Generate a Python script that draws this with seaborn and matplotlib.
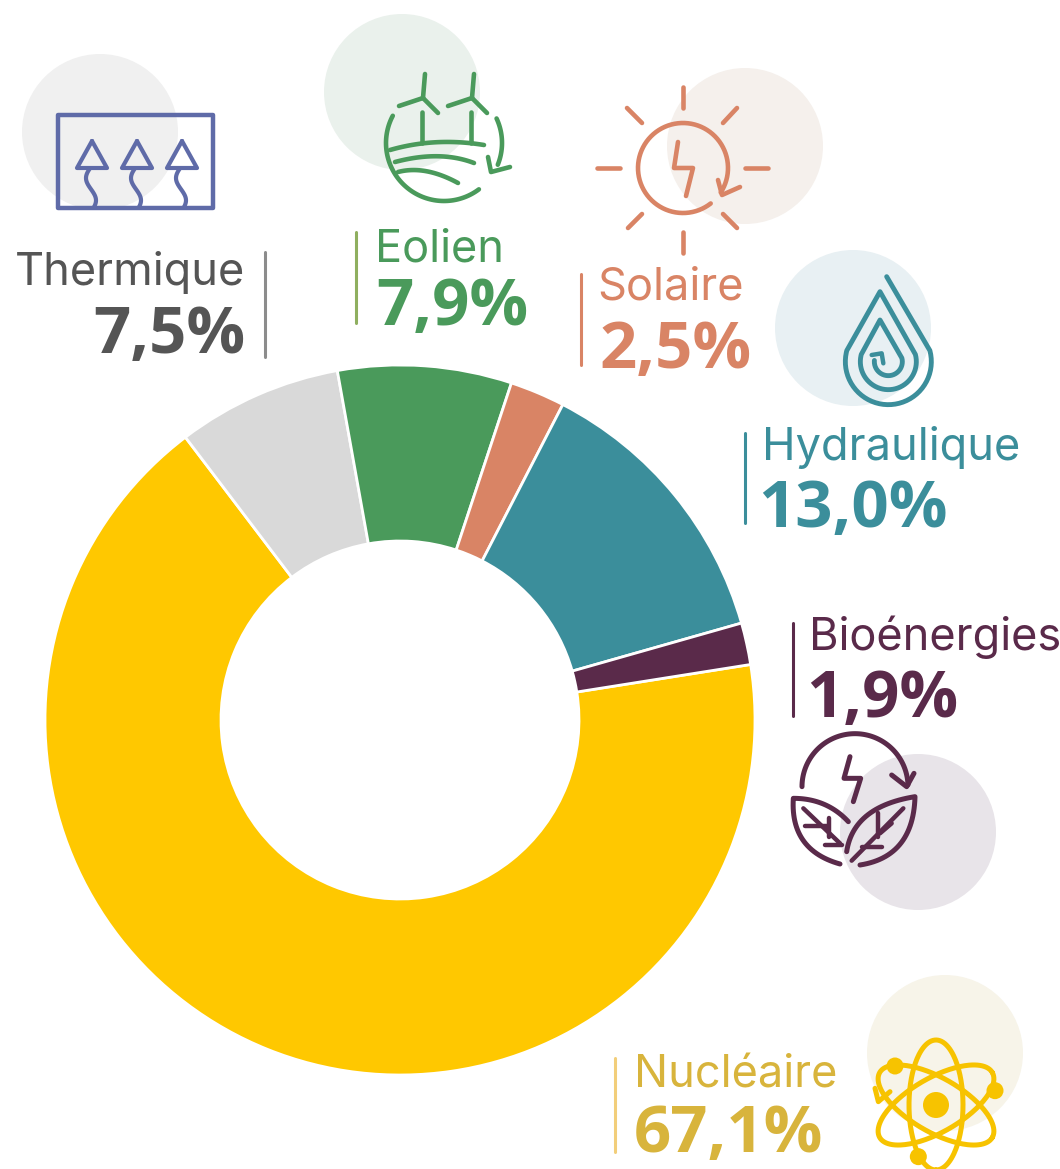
import numpy as np
import matplotlib
matplotlib.use("Agg")
import matplotlib.pyplot as plt
from matplotlib.patches import Circle, Rectangle
import seaborn as sns

# ---- data -----------------------------------------------------------------
categories = ["Nucléaire", "Thermique", "Eolien", "Solaire", "Hydraulique", "Bioénergies"]
shares = [67.1, 7.5, 7.9, 2.5, 13.0, 1.9]
slice_colors = ["#FFC800", "#D9D9D9", "#4A9A5B", "#D98465", "#3B8E9B", "#5A2A4A"]
text_colors = ["#D8B43C", "#555555", "#4A9A5B", "#D98465", "#3B8E9B", "#5A2A4A"]
bar_colors = ["#F2CE7A", "#8C8C8C", "#8FAF5F", "#D98465", "#3B8E9B", "#5A2A4A"]
halo_colors = ["#F7F4E9", "#F0F0F0", "#EAF1EC", "#F5F0EC", "#E8F0F3", "#E8E4E9"]

W, H = 1060, 1169
sns.set_theme(style="white")
plt.rcParams["font.family"] = ["Inter", "DejaVu Sans"]

fig = plt.figure(figsize=(W / 100, H / 100), dpi=100, facecolor="white")

bg = fig.add_axes([0, 0, 1, 1], zorder=1)
bg.set_xlim(0, W); bg.set_ylim(H, 0); bg.axis("off")
fg = fig.add_axes([0, 0, 1, 1], zorder=3)
fg.set_xlim(0, W); fg.set_ylim(H, 0); fg.axis("off"); fg.patch.set_alpha(0)

# donut
cx, cy, R = 400, 720, 355
ax = fig.add_axes([(cx - R) / W, 1 - (cy + R) / H, 2 * R / W, 2 * R / H], zorder=2)
ax.patch.set_alpha(0)
palette = sns.color_palette(slice_colors)
ax.pie(shares, colors=palette, startangle=9.0, counterclock=False, radius=1,
       wedgeprops=dict(width=1 - 179 / 355, edgecolor="white", linewidth=2.0))
ax.set_xlim(-1, 1); ax.set_ylim(-1, 1)
sns.despine(ax=ax, left=True, bottom=True)

# ---- labels ---------------------------------------------------------------
# name -> (label x, value x, ha, label baseline, value baseline, bar x, top, bottom, halo x, y)
layout = {
    "Thermique":   (245, 245, "right", 285, 353, 265, 252, 357, 100, 132),
    "Eolien":      (375, 376, "left", 262, 325, 356, 232, 323, 402, 92),
    "Solaire":     (597, 599, "left", 300, 368, 581, 274, 365, 745, 146),
    "Hydraulique": (762, 758, "left", 460, 527, 745, 433, 523, 853, 328),
    "Bioénergies": (809, 806, "left", 650, 717, 793, 623, 716, 918, 832),
    "Nucléaire":   (634, 634, "left", 1087, 1152, 615, 1058, 1152, 945, 1053),
}
for name, val, col, bcol, halo in zip(categories, shares, text_colors, bar_colors, halo_colors):
    x, vx, ha, y1, y2, bx, b0, b1, hx, hy = layout[name]
    bg.add_patch(Circle((hx, hy), 78, fc=halo, ec="none"))
    fg.text(x, y1, name, color=col, fontsize=32.5, ha=ha, va="baseline",
            family=["Inter", "DejaVu Sans"])
    fg.text(vx, y2, f"{val:.1f}%".replace(".", ","), color=col, fontsize=47, ha=ha,
            va="baseline", fontweight="bold", family=["Open Sans", "DejaVu Sans"])
    fg.plot([bx, bx], [b0, b1], color=bcol, lw=2.2, solid_capstyle="round")


def line(pts, col, lw=3.3, z=4):
    p = np.array(pts, float)
    fg.plot(p[:, 0], p[:, 1], color=col, lw=lw, solid_capstyle="round",
            solid_joinstyle="round", zorder=z)


def arc(xc, yc, r, a0, a1, n=80):
    t = np.radians(np.linspace(a0, a1, n))
    return np.c_[xc + r * np.cos(t), yc + r * np.sin(t)]


def bez(p0, p1, p2, n=30):
    t = np.linspace(0, 1, n)[:, None]
    p0, p1, p2 = map(np.array, (p0, p1, p2))
    return (1 - t) ** 2 * p0 + 2 * t * (1 - t) * p1 + t ** 2 * p2


# Thermique
c = "#5F6BA8"
fg.add_patch(Rectangle((58, 115), 155, 93, fc="none", ec=c, lw=3.2, joinstyle="round"))
for x0 in (92, 137, 182):
    line([(x0, 141), (x0 - 15, 168), (x0 + 15, 168), (x0, 141)], c, 3)
    ys = np.linspace(169, 207, 40)
    line(np.c_[x0 - 1 + 5 * np.sin((ys - 169) / 38 * 2 * np.pi * 0.85 + 0.3) * (-1), ys], c, 3)

# Eolien
c = "#4A9A5B"
for hx_ in (423, 472):
    line([(hx_, 98), (hx_ + 2, 74)], c); line([(hx_, 98), (hx_ - 24, 106)], c)
    line([(hx_, 98), (hx_ + 15, 113)], c); line([(hx_ - 1, 112), (hx_ - 1, 143)], c)
line(arc(444, 143, 58, 53, 208), c)
line(arc(444, 143, 58, -25, 22), c)
line([(488, 157), (491, 172), (510, 167)], c)
line(bez((390, 150), (435, 137), (484, 145)), c)
line(bez((395, 162), (440, 150), (474, 163)), c)
line(bez((398, 172), (425, 165), (458, 183)), c)

# Solaire
c = "#D98465"
for seg in [((683, 87), (683, 108)), ((683, 232), (683, 253)), ((597, 168), (620, 168)),
            ((745, 168), (768, 168)), ((627, 108), (642, 123)), ((737, 108), (723, 123)),
            ((628, 228), (642, 214)), ((737, 228), (723, 214))]:
    line(seg, c)
line(arc(683, 168, 45, 52, 393), c)
line([(678, 142), (674, 168), (693, 168), (686, 196)], c)
line([(718, 180), (722, 195), (740, 187)], c)

# Hydraulique
c = "#3B8E9B"
z = lambda x, y: (570 + x / 3, 60 + y / 3)
spiral = [z(950, 650)]
spiral += [tuple(q) for q in arc(*z(955, 905), 43, -15, 195)]
spiral += [z(930, 695)]
spiral += [tuple(q) for q in arc(*z(955, 905), 28, -15, 195)]
spiral += [z(930, 780)]
spiral += [tuple(q) for q in arc(*z(955, 905), 14, -15, 185)]
line(spiral, c, 3.5)
line([z(905, 885), z(935, 880), z(940, 910)], c, 3.2)

# Bioénergies
c = "#5A2A4A"
z = lambda x, y: (770 + x / 3, 610 + y / 3)
line(arc(*z(255, 530), 53, 180, 358), c, 3.6)
line([z(365, 495), z(410, 530), z(432, 490)], c, 3.6)
line([z(240, 440), z(222, 505), z(272, 505), z(250, 575)], c, 3.6)
line(np.r_[bez(z(235, 635), z(170, 565), z(70, 565)), bez(z(70, 565), z(60, 720), z(210, 762))], c, 3.6)
line(np.r_[bez(z(230, 725), z(250, 590), z(435, 560)), bez(z(435, 560), z(430, 740), z(270, 765))], c, 3.6)
line([z(100, 595), z(210, 700)], c, 3.2)
line([z(105, 648), z(170, 648)], c, 3.2); line([z(178, 625), z(178, 680)], c, 3.2)
line([z(165, 705), z(215, 705)], c, 3.2)
line([z(245, 752), z(400, 595)], c, 3.2)
line([z(275, 710), z(335, 710)], c, 3.2); line([z(325, 610), z(325, 680)], c, 3.2)
line([z(330, 670), z(365, 640)], c, 3.2)

# Nucléaire
c = "#F7C300"
z = lambda x, y: (600 + x / 3, 960 + y / 3)
ac = np.array(z(1008, 435))
t = np.radians(np.linspace(0, 360, 200))
for rot, gap in ((90, False), (30, False), (-30, True)):
    r = np.radians(rot)
    ex, ey = 65 * np.cos(t), 27 * np.sin(t)
    px = ac[0] + ex * np.cos(r) - ey * np.sin(r)
    py = ac[1] + ex * np.sin(r) + ey * np.cos(r)
    if gap:
        keep = ~((px < ac[0] - 44) & (py > ac[1] - 38) & (py < ac[1] - 12))
        px = np.where(keep, px, np.nan)
    fg.plot(px, py, color=c, lw=3.6, zorder=4)
fg.add_patch(Circle(ac, 13, fc=c, ec="none", zorder=4))
for ex_ in (z(885, 318), z(1185, 392), z(955, 590)):
    fg.add_patch(Circle(ex_, 8.5, fc=c, ec="none", zorder=4))
line([z(825, 385), z(835, 425), z(870, 395)], c, 3.6)

fig.savefig("out.png", dpi=100, facecolor="white")
